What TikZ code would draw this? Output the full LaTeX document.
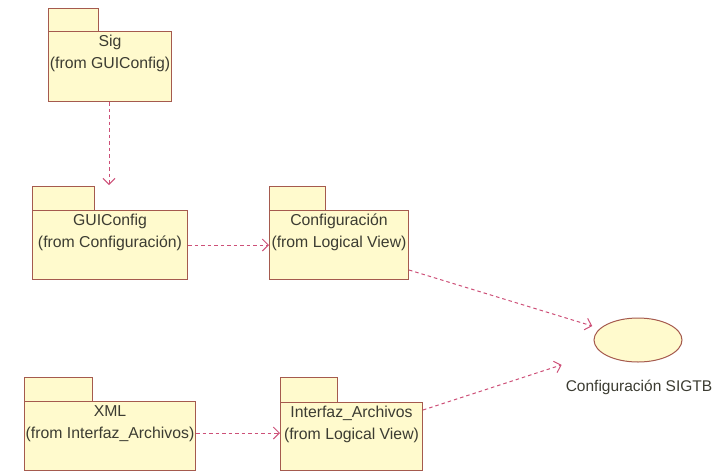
\documentclass[tikz,border=0pt]{standalone}
\usepackage{fontspec}
\setmainfont{Liberation Sans}
\usetikzlibrary{arrows.meta,shapes.geometric}

\definecolor{pkgfill}{RGB}{255,250,205}
\definecolor{pkgline}{RGB}{165,90,78}
\definecolor{deplink}{RGB}{205,80,120}
\definecolor{txt}{RGB}{60,60,50}

\tikzset{
  pkgbody/.style={draw=pkgline, fill=pkgfill, line width=1pt, inner sep=0pt,
    anchor=north west},
  pkgtab/.style={draw=pkgline, fill=pkgfill, line width=1pt},
  pkgtext/.style={align=center, text=txt, inner sep=0pt, anchor=north,
    font=\fontsize{15.8}{22}\selectfont},
  ucase/.style={ellipse, draw=pkgline, fill=pkgfill, line width=1pt,
    minimum width=88pt, minimum height=44pt, inner sep=0pt},
  uclabel/.style={text=txt, inner sep=0pt, font=\fontsize{15.5}{18}\selectfont},
  dep/.style={draw=deplink, line width=1pt, dash pattern=on 3.5pt off 3pt,
    -{Straight Barb[length=6pt,width=12pt,line width=1pt]}}
}

\begin{document}
\begin{tikzpicture}[x=1pt,y=-1pt]
  \useasboundingbox (0,0) rectangle (726,472);

  % package tabs
  \draw[pkgtab] (48,31)  rectangle ++(50,-23);
  \draw[pkgtab] (32,210) rectangle ++(62,-24);
  \draw[pkgtab] (269,210) rectangle ++(56,-24);
  \draw[pkgtab] (24,401) rectangle ++(68,-24);
  \draw[pkgtab] (280,402) rectangle ++(57,-25);

  % package bodies
  \node[pkgbody, minimum width=123pt, minimum height=70pt] (sig)  at (48,31)  {};
  \node[pkgbody, minimum width=155pt, minimum height=69pt] (gui)  at (32,210) {};
  \node[pkgbody, minimum width=139pt, minimum height=69pt] (conf) at (269,210) {};
  \node[pkgbody, minimum width=171pt, minimum height=69pt] (xml)  at (24,401) {};
  \node[pkgbody, minimum width=142pt, minimum height=68pt] (intf) at (280,402) {};

  % package names
  \node[pkgtext, yshift=-4pt] (sigt)  at (sig.north)  {Sig\\(from GUIConfig)};
  \node[pkgtext, yshift=-4pt] (guit)  at (gui.north)  {GUIConfig\\(from Configuración)};
  \node[pkgtext, yshift=-4pt] (conft) at (conf.north) {Configuración\\(from Logical View)};
  \node[pkgtext, yshift=-4pt] (xmlt)  at (xml.north)  {XML\\(from Interfaz\_Archivos)};
  \node[pkgtext, yshift=-4pt] (intft) at (intf.north) {Interfaz\_Archivos\\(from Logical View)};

  % use case
  \node[ucase] (uc) at (638,340) {};
  \node[uclabel] (ucl) at (639,387) {Configuración SIGTB};

  % dependencies
  \coordinate (guitop) at (109,185);
  \draw[dep] (sig.south -| guitop) -- (guitop);
  \draw[dep] (gui.east) -- (conf.west);
  \draw[dep] ([yshift=3pt]xml.east) -- ([yshift=3pt]xml.east -| intf.west);
  \draw[dep, shorten >=8pt] ([yshift=10pt]conf.south east) -- (uc);
  \draw[dep, shorten >=41pt] ([yshift=-8pt]intf.north east) -- (uc);
\end{tikzpicture}
\end{document}
